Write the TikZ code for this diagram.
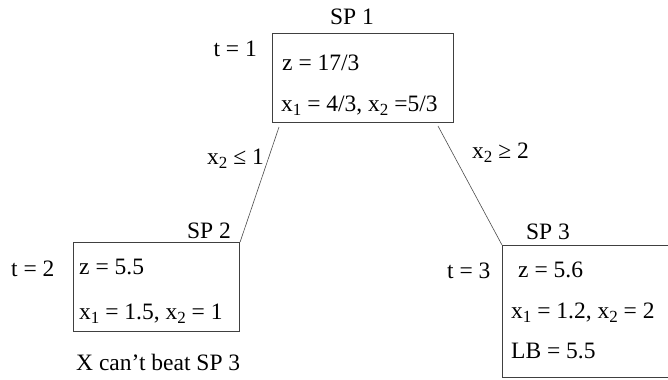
\documentclass[tikz,border=0pt]{standalone}
\usepackage{fontspec}
\setmainfont{Liberation Serif}
\newcommand\sbs[1]{\raisebox{-0.4ex}{\fontsize{17bp}{17bp}\selectfont #1}}
\begin{document}
\begin{tikzpicture}[x=1bp,y=-1bp,
  every node/.style={font=\fontsize{23.5bp}{27bp}\selectfont, inner sep=0pt},
  box/.style={draw=black!75, line width=1.1pt},
  conn/.style={draw=black!70, line width=0.6pt}]
\useasboundingbox (0,0) rectangle (668,379);
% boxes
\node[box, minimum width=181bp, minimum height=89bp, anchor=north west] (sp1) at (272,33) {};
\node[box, minimum width=166bp, minimum height=89bp, anchor=north west] (sp2) at (73,242) {};
\node[box, minimum width=170bp, minimum height=132bp, anchor=north west] (sp3) at (502,245) {};
% box titles
\node[anchor=base] (l1) at (352,24) {SP 1};
\node[anchor=base] (l2) at (209,238) {SP 2};
\node[anchor=base] (l3) at (548,239) {SP 3};
% t labels
\node[anchor=base east] (t1) at (257,56) {t = 1};
\node[anchor=base west] (t2) at (11,276) {t = 2};
\node[anchor=base west] (t3) at (447,278) {t = 3};
% contents SP1
\node[anchor=base west] (a1) at (282,70) {z = 17/3};
\node[anchor=base west] (a2) at (281,111) {x\sbs{1} = 4/3, x\sbs{2} =5/3};
% contents SP2
\node[anchor=base west] (b1) at (79,274) {z = 5.5};
\node[anchor=base west] (b2) at (79,319) {x\sbs{1} = 1.5, x\sbs{2} = 1};
\node[anchor=base west] (b3) at (76,370) {X can’t beat SP 3};
% contents SP3
\node[anchor=base west] (c1) at (518,277) {z = 5.6};
\node[anchor=base west] (c2) at (511,318) {x\sbs{1} = 1.2, x\sbs{2} = 2};
\node[anchor=base west] (c3) at (511,358) {LB = 5.5};
% connectors
\coordinate (p1) at (279,127);
\coordinate (p2) at (438,126);
\draw[conn] (p1) -- (sp2.north east);
\draw[conn] (p2) -- (sp3.north west);
% edge labels
\node[anchor=base east] (e1) at (264,164) {x\sbs{2} ≤ 1};
\node[anchor=base west] (e2) at (472,158) {x\sbs{2} ≥ 2};
\end{tikzpicture}
\end{document}
